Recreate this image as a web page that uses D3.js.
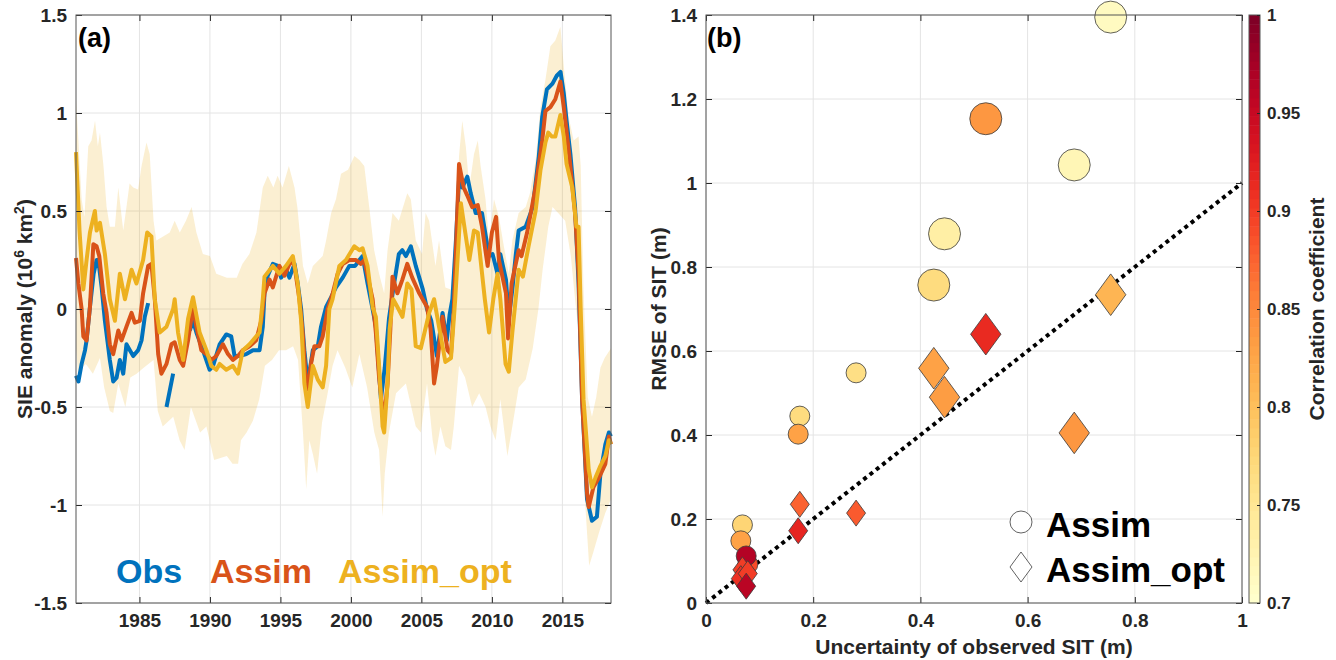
<!DOCTYPE html>
<html>
<head>
<meta charset="utf-8">
<script src="https://cdn.jsdelivr.net/npm/d3@7"></script>
<style>
  body { margin: 0; background: #fff; }
  svg { display: block; font-family: "Liberation Sans", Arial, sans-serif; font-weight: bold; }
</style>
</head>
<body>
<div id="chart"></div>
<script>
// ---- Panel (a): SIE anomaly time series, [year, value]; null breaks the line ----
const obsSeries = [
  [1980.5,-0.34],[1980.67,-0.37],[1980.9,-0.28],[1981.14,-0.21],[1981.25,-0.16],[1981.49,0.01],[1981.75,0.18],
  [1981.96,0.25],[1982.08,0.25],[1982.32,0.11],[1982.55,-0.06],[1982.9,-0.26],[1983.14,-0.37],[1983.38,-0.35],
  [1983.61,-0.26],[1983.85,-0.33],[1984.08,-0.18],[1984.32,-0.21],[1984.56,-0.24],[1984.91,-0.21],[1985.15,-0.16],
  [1985.38,-0.04],[1985.62,0.03],null,
  [1986.92,-0.50],[1987.39,-0.33],null,
  [1988.57,-0.11],[1988.8,-0.06],[1989.04,-0.12],[1989.5,-0.21],[1989.98,-0.31],[1990.22,-0.29],[1990.69,-0.18],
  [1991.16,-0.13],[1991.51,-0.14],[1991.75,-0.24],[1992.1,-0.24],[1992.58,-0.23],[1993.05,-0.21],[1993.52,-0.21],
  [1993.75,-0.09],[1993.87,0.08],[1994.1,0.17],[1994.46,0.23],[1994.82,0.22],[1995.05,0.16],[1995.4,0.20],
  [1995.64,0.16],[1996.0,0.23],[1996.23,0.13],[1996.47,0.0],[1996.7,-0.21],[1996.94,-0.38],[1997.3,-0.21],
  [1997.65,-0.19],[1997.88,-0.09],[1998.24,0.01],[1998.6,0.06],[1998.94,0.11],[1999.42,0.16],[1999.89,0.22],
  [2000.3,0.22],[2000.6,0.25],[2000.83,0.27],[2001.18,0.13],[2001.54,0.0],[2001.77,-0.09],[2002.13,-0.46],
  [2002.4,-0.30],[2002.7,-0.05],[2003.0,0.10],[2003.4,0.28],[2003.65,0.30],[2003.9,0.27],[2004.25,0.32],
  [2004.6,0.22],[2005.1,0.10],[2005.4,0.0],[2005.7,-0.06],[2006.1,-0.24],[2006.5,-0.02],[2006.8,-0.16],
  [2007.0,-0.03],[2007.2,0.05],[2007.45,0.35],[2007.67,0.66],[2007.9,0.62],[2008.26,0.675],[2008.5,0.59],
  [2008.85,0.49],[2009.3,0.49],[2009.8,0.27],[2010.05,0.28],[2010.4,0.18],[2010.6,0.28],[2011.0,0.15],
  [2011.2,-0.05],[2011.45,0.10],[2011.7,0.28],[2011.9,0.40],[2012.4,0.42],[2012.9,0.52],[2013.1,0.64],
  [2013.33,0.78],[2013.57,0.98],[2013.9,1.12],[2014.3,1.15],[2014.6,1.19],[2014.87,1.21],[2015.1,1.10],
  [2015.3,0.96],[2015.57,0.79],[2015.9,0.52],[2016.15,0.13],[2016.4,-0.46],[2016.75,-0.97],[2017.1,-1.08],
  [2017.45,-1.06],[2017.7,-0.84],[2018.05,-0.69],[2018.3,-0.63],[2018.45,-0.65]
];

const assimSeries = [
  [1980.5,0.26],[1980.67,0.13],[1980.9,0.0],[1981.02,-0.14],[1981.25,-0.16],[1981.49,0.01],[1981.73,0.33],
  [1981.96,0.32],[1982.15,0.27],[1982.43,0.08],[1982.67,-0.02],[1982.9,-0.18],[1983.14,-0.23],[1983.5,-0.11],
  [1983.73,-0.16],[1984.08,-0.09],[1984.44,-0.02],[1984.67,-0.07],[1985.03,-0.06],[1985.26,0.08],[1985.62,0.22],
  [1985.85,0.23],[1986.09,0.05],[1986.33,-0.23],[1986.56,-0.33],[1986.92,-0.28],[1987.27,-0.18],[1987.5,-0.17],
  [1987.86,-0.26],[1988.1,-0.29],[1988.45,-0.16],[1988.8,0.01],[1989.04,-0.09],[1989.39,-0.21],[1989.75,-0.23],
  [1990.1,-0.26],[1990.45,-0.24],[1990.92,-0.18],[1991.28,-0.23],[1991.63,-0.26],[1991.99,-0.24],[1992.34,-0.21],
  [1992.81,-0.19],[1993.28,-0.16],[1993.64,-0.06],[1993.87,0.08],[1994.23,0.15],[1994.46,0.11],[1994.93,0.22],
  [1995.29,0.17],[1995.76,0.25],[1996.0,0.22],[1996.35,0.05],[1996.58,-0.12],[1996.82,-0.38],[1996.94,-0.41],
  [1997.17,-0.28],[1997.41,-0.19],[1997.76,-0.19],[1998.0,-0.14],[1998.35,0.0],[1998.71,0.08],[1999.06,0.18],
  [1999.42,0.23],[1999.89,0.25],[2000.36,0.25],[2000.71,0.23],[2000.95,0.25],[2001.3,0.13],[2001.54,0.05],
  [2001.77,-0.12],[2002.0,-0.35],[2002.25,-0.52],[2002.35,-0.57],[2002.6,-0.38],[2002.8,-0.10],[2002.95,0.165],
  [2003.3,0.08],[2003.65,0.15],[2004.0,0.23],[2004.35,0.16],[2004.85,0.08],[2005.4,0.01],[2005.65,-0.10],
  [2005.9,-0.38],[2006.1,-0.29],[2006.5,-0.04],[2006.85,-0.21],[2007.1,-0.23],[2007.3,0.0],[2007.5,0.40],
  [2007.67,0.74],[2008.0,0.62],[2008.25,0.58],[2008.6,0.52],[2009.0,0.53],[2009.3,0.42],[2009.7,0.22],
  [2010.0,0.39],[2010.3,0.47],[2010.5,0.25],[2011.0,0.08],[2011.15,-0.15],[2011.4,0.13],[2011.9,0.30],
  [2012.1,0.27],[2012.5,0.39],[2013.1,0.62],[2013.57,0.86],[2013.8,1.01],[2014.15,1.03],[2014.5,1.07],
  [2014.86,1.16],[2015.1,1.03],[2015.45,0.81],[2015.9,0.49],[2016.15,0.18],[2016.4,-0.46],[2016.75,-0.94],
  [2016.87,-1.01],[2017.2,-0.91],[2017.6,-0.86],[2018.05,-0.79],[2018.3,-0.65],[2018.45,-0.69]
];

const optSeries = [
  [1980.5,0.80],[1980.75,0.40],[1981.02,0.10],[1981.25,0.25],[1981.49,0.39],[1981.84,0.50],[1981.96,0.40],
  [1982.2,0.44],[1982.55,0.28],[1982.9,0.05],[1983.26,-0.06],[1983.61,0.18],[1983.97,0.05],[1984.44,0.20],
  [1984.79,0.13],[1985.26,0.25],[1985.55,0.39],[1985.85,0.37],[1986.09,0.05],[1986.44,-0.12],[1986.92,-0.09],
  [1987.39,0.0],[1987.5,0.05],[1987.74,-0.12],[1988.1,-0.26],[1988.45,-0.05],[1988.8,0.06],[1989.27,-0.12],
  [1989.75,-0.21],[1990.1,-0.29],[1990.45,-0.31],[1990.69,-0.28],[1991.16,-0.31],[1991.63,-0.29],[1991.99,-0.33],
  [1992.34,-0.21],[1992.81,-0.18],[1993.52,-0.12],[1993.75,0.05],[1993.87,0.165],[1994.46,0.22],[1994.93,0.18],
  [1995.4,0.22],[1995.88,0.27],[1996.23,0.13],[1996.47,-0.06],[1996.7,-0.38],[1996.94,-0.50],[1997.3,-0.29],
  [1997.65,-0.36],[1998.0,-0.40],[1998.24,-0.29],[1998.47,0.0],[1998.7,0.05],[1999.18,0.22],[1999.65,0.25],
  [2000.24,0.32],[2000.6,0.30],[2000.83,0.31],[2001.18,0.22],[2001.54,0.01],[2001.77,-0.04],[2002.0,-0.29],
  [2002.25,-0.60],[2002.36,-0.63],[2002.6,-0.38],[2002.75,-0.10],[2003.0,0.05],[2003.3,0.01],[2003.66,-0.04],
  [2004.0,0.13],[2004.3,0.10],[2004.6,-0.19],[2004.96,-0.20],[2005.55,-0.02],[2005.9,0.05],[2006.25,-0.09],
  [2006.7,-0.27],[2007.1,-0.25],[2007.4,0.05],[2007.8,0.54],[2008.05,0.42],[2008.4,0.25],[2008.73,0.40],
  [2009.0,0.39],[2009.2,0.25],[2009.5,0.05],[2009.8,-0.12],[2010.1,0.05],[2010.4,0.18],[2010.6,0.05],
  [2010.97,-0.28],[2011.2,-0.32],[2011.45,-0.12],[2011.9,0.20],[2012.2,0.165],[2012.6,0.32],[2013.1,0.50],
  [2013.45,0.71],[2013.8,0.85],[2014.0,0.90],[2014.25,0.88],[2014.5,0.88],[2014.86,0.99],[2015.1,0.88],
  [2015.3,0.74],[2015.7,0.62],[2016.0,0.42],[2016.15,0.42],[2016.3,0.0],[2016.5,-0.46],[2016.87,-0.82],
  [2017.1,-0.91],[2017.35,-0.86],[2017.7,-0.80],[2018.05,-0.75],[2018.3,-0.67],[2018.45,-0.69]
];

// ensemble spread (upper and lower edges)
const spreadUpper = [
  [1980.5,1.07],[1980.67,0.86],[1980.9,0.56],[1981.1,0.47],[1981.37,0.83],[1981.6,0.86],[1981.85,0.96],
  [1982.05,0.83],[1982.2,0.90],[1982.45,0.73],[1982.67,0.52],[1982.9,0.42],[1983.26,0.42],[1983.5,0.62],
  [1983.85,0.40],[1984.08,0.52],[1984.3,0.64],[1984.56,0.62],[1984.9,0.61],[1985.15,0.73],[1985.5,0.85],
  [1985.73,0.79],[1986.0,0.45],[1986.2,0.35],[1986.68,0.37],[1987.15,0.39],[1987.5,0.45],[1987.86,0.39],
  [1988.3,0.45],[1988.7,0.52],[1989.04,0.39],[1989.5,0.28],[1990.0,0.27],[1990.45,0.18],[1991.2,0.16],
  [1991.9,0.16],[1992.3,0.23],[1992.8,0.28],[1993.3,0.39],[1993.75,0.62],[1994.1,0.68],[1994.5,0.62],
  [1994.8,0.68],[1995.15,0.62],[1995.6,0.73],[1996.0,0.62],[1996.2,0.52],[1996.6,0.22],[1996.94,0.13],
  [1997.3,0.22],[1998.0,0.27],[1998.24,0.35],[1998.6,0.49],[1998.94,0.56],[1999.3,0.69],[1999.8,0.71],
  [2000.25,0.78],[2000.6,0.76],[2000.95,0.73],[2001.3,0.52],[2001.65,0.30],[2002.0,0.18],[2002.36,0.08],
  [2002.6,0.30],[2002.95,0.49],[2003.4,0.45],[2004.0,0.59],[2004.25,0.56],[2004.6,0.35],[2005.05,0.28],
  [2005.3,0.49],[2005.55,0.45],[2006.0,0.22],[2006.25,0.35],[2006.7,0.11],[2007.1,0.10],[2007.45,0.39],
  [2007.67,0.78],[2007.9,0.96],[2008.15,0.83],[2008.4,0.62],[2008.73,0.79],[2009.0,0.86],[2009.2,0.73],
  [2009.55,0.56],[2009.8,0.35],[2010.15,0.56],[2010.5,0.47],[2010.85,0.32],[2011.2,0.18],[2011.45,0.35],
  [2011.9,0.49],[2012.4,0.52],[2012.7,0.59],[2013.1,0.76],[2013.45,1.03],[2013.8,1.17],[2014.15,1.34],
  [2014.5,1.37],[2014.86,1.44],[2015.1,1.24],[2015.45,0.98],[2015.8,0.86],[2016.15,0.88],[2016.3,0.73],
  [2016.5,0.10],[2016.8,-0.45],[2017.1,-0.55],[2017.4,-0.45],[2017.7,-0.30],[2018.0,-0.25],[2018.45,-0.20]
];

const spreadLower = [
  [1980.5,-0.20],[1980.7,-0.38],[1980.9,-0.30],[1981.2,-0.28],[1981.7,-0.33],[1982.2,-0.25],[1982.5,-0.40],
  [1982.9,-0.52],[1983.14,-0.53],[1983.5,-0.38],[1984.0,-0.50],[1984.35,-0.35],[1984.8,-0.33],[1985.3,-0.30],
  [1986.0,-0.26],[1986.3,-0.52],[1986.65,-0.60],[1987.4,-0.55],[1987.85,-0.67],[1988.2,-0.72],[1988.65,-0.50],
  [1989.3,-0.63],[1989.75,-0.60],[1990.3,-0.77],[1991.2,-0.75],[1991.6,-0.79],[1992.0,-0.79],[1992.2,-0.67],
  [1992.6,-0.63],[1993.05,-0.57],[1993.5,-0.46],[1993.9,-0.29],[1994.4,-0.26],[1994.9,-0.21],[1995.4,-0.21],
  [1995.9,-0.19],[1996.25,-0.26],[1996.6,-0.63],[1996.83,-0.92],[1997.05,-0.67],[1997.3,-0.74],[1997.6,-0.84],
  [1997.95,-0.58],[1998.35,-0.43],[1998.7,-0.29],[1999.05,-0.21],[1999.6,-0.30],[2000.1,-0.40],[2000.6,-0.23],
  [2001.15,-0.40],[2001.66,-0.63],[2002.0,-0.72],[2002.25,-1.06],[2002.4,-0.84],[2002.7,-0.63],[2003.2,-0.43],
  [2003.9,-0.38],[2004.6,-0.60],[2004.96,-0.63],[2005.4,-0.38],[2005.8,-0.67],[2006.0,-0.75],[2006.35,-0.60],
  [2006.7,-0.70],[2007.1,-0.72],[2007.3,-0.60],[2007.67,-0.29],[2008.1,-0.35],[2008.6,-0.50],[2009.1,-0.43],
  [2009.55,-0.50],[2009.9,-0.60],[2010.27,-0.67],[2010.6,-0.46],[2011.1,-0.75],[2011.45,-0.60],[2011.9,-0.40],
  [2012.4,-0.36],[2012.9,-0.20],[2013.3,0.0],[2013.6,0.20],[2014.0,0.42],[2014.3,0.52],[2014.7,0.49],
  [2015.2,0.45],[2015.6,0.27],[2015.9,0.05],[2016.15,-0.12],[2016.35,-0.38],[2016.6,-0.97],[2016.9,-1.31],
  [2017.2,-1.24],[2017.6,-1.14],[2018.05,-1.04],[2018.45,-0.97]
];

const yearTicks = [1985, 1990, 1995, 2000, 2005, 2010, 2015];
const sieTicks = [-1.5, -1, -0.5, 0, 0.5, 1, 1.5];
const seriesNames = ["Obs", "Assim", "Assim_opt"];
const seriesColors = ["#0072BD", "#D95319", "#EDB120"];

// ---- Panel (b): SIT scatter ----
const sitUncert   = [0.755, 0.687, 0.522, 0.445, 0.425, 0.280, 0.175, 0.172, 0.068, 0.065, 0.078, 0.075];
const rmseAssim   = [1.395, 1.043, 1.153, 0.879, 0.757, 0.548, 0.445, 0.402, 0.186, 0.148, 0.092, 0.112];
const corrAssim   = [0.71, 0.72, 0.84, 0.735, 0.77, 0.765, 0.77, 0.83, 0.775, 0.83, 0.89, 0.965];
const rmseOpt     = [0.734, 0.405, 0.640, 0.490, 0.559, 0.214, 0.235, 0.172, 0.079, 0.058, 0.070, 0.040];
const corrOpt     = [0.81, 0.84, 0.915, 0.835, 0.83, 0.88, 0.875, 0.92, 0.90, 0.91, 0.90, 0.96];
const uncTicks  = [0, 0.2, 0.4, 0.6, 0.8, 1];
const rmseTicks = [0, 0.2, 0.4, 0.6, 0.8, 1, 1.2, 1.4];
const corrTicks = [0.7, 0.75, 0.8, 0.85, 0.9, 0.95, 1];

// ---- layout ----
const W = 1336, H = 660;
const svg = d3.select("#chart").append("svg")
    .attr("width", W).attr("height", H)
    .attr("viewBox", [0, 0, W, H]);

const fmt = d => String(Math.round(d * 100) / 100);
const ink = "#262626";

function drawGrid(x, y, xt, yt) {
    const g = svg.append("g");
    const [x0, x1] = x.range(), [y0, y1] = y.range();
    g.append("g").selectAll("line").data(xt).join("line")
        .attr("x1", d => x(d)).attr("x2", d => x(d)).attr("y1", y0).attr("y2", y1)
        .attr("stroke", "#e4e4e4").attr("stroke-width", 1);
    g.append("g").selectAll("line").data(yt).join("line")
        .attr("x1", x0).attr("x2", x1).attr("y1", d => y(d)).attr("y2", d => y(d))
        .attr("stroke", "#e4e4e4").attr("stroke-width", 1);
    return g;
}

function drawAxes(x, y, xt, yt) {
    const [x0, x1] = x.range(), [y0, y1] = y.range();
    const style = sel => {
        sel.attr("font-size", 19).attr("font-family", null).attr("font-weight", "bold");
        sel.select(".domain").remove();
        sel.selectAll("line").attr("stroke", ink);
        sel.selectAll("text").attr("fill", ink);
    };
    svg.append("g").attr("transform", `translate(0,${y0})`)
        .call(d3.axisBottom(x).tickValues(xt).tickSize(-6).tickPadding(11).tickFormat(fmt)).call(style);
    svg.append("g").attr("transform", `translate(0,${y1})`)
        .call(d3.axisTop(x).tickValues(xt).tickSize(-6).tickFormat("")).call(style);
    svg.append("g").attr("transform", `translate(${x0},0)`)
        .call(d3.axisLeft(y).tickValues(yt).tickSize(-6).tickPadding(9).tickFormat(fmt)).call(style);
    svg.append("g").attr("transform", `translate(${x1},0)`)
        .call(d3.axisRight(y).tickValues(yt).tickSize(-6).tickFormat("")).call(style);
    svg.append("rect").attr("x", x0).attr("y", y1).attr("width", x1 - x0).attr("height", y0 - y1)
        .attr("fill", "none").attr("stroke", "#555").attr("stroke-width", 1);
}

// ===== Panel (a) =====
const xa = d3.scaleLinear().domain([1980.5, 2018.45]).range([76, 611]);
const ya = d3.scaleLinear().domain([-1.5, 1.5]).range([603, 15]);
drawGrid(xa, ya, yearTicks, sieTicks);

const spreadPts = spreadUpper.concat(spreadLower.slice().reverse());
svg.append("path")
    .attr("d", d3.line().x(d => xa(d[0])).y(d => ya(d[1]))(spreadPts) + "Z")
    .attr("fill", "#EDB120").attr("fill-opacity", 0.2);

const lineA = d3.line().defined(d => d !== null).x(d => xa(d[0])).y(d => ya(d[1]));
[obsSeries, assimSeries, optSeries].forEach((s, i) => {
    svg.append("path").attr("d", lineA(s))
        .attr("fill", "none").attr("stroke", seriesColors[i])
        .attr("stroke-width", 4).attr("stroke-linejoin", "round").attr("stroke-linecap", "butt");
});
drawAxes(xa, ya, yearTicks, sieTicks);

svg.append("text").attr("x", 78).attr("y", 47).attr("font-size", 27).attr("fill", "#000").text("(a)");

const yl = svg.append("text").attr("transform", "translate(32,309) rotate(-90)")
    .attr("text-anchor", "middle").attr("font-size", 21).attr("fill", ink);
yl.append("tspan").text("SIE anomaly (10");
yl.append("tspan").attr("dy", -8).attr("font-size", 14).text("6");
yl.append("tspan").attr("dy", 8).text(" km");
yl.append("tspan").attr("dy", -8).attr("font-size", 14).text("2");
yl.append("tspan").attr("dy", 8).text(")");

const legX = [116, 210, 338];
svg.append("g").selectAll("text").data(seriesNames).join("text")
    .attr("x", (d, i) => legX[i]).attr("y", 583)
    .attr("font-size", 34).attr("fill", (d, i) => seriesColors[i]).text(d => d);

// ===== Panel (b) =====
const xb = d3.scaleLinear().domain([0, 1]).range([706, 1242]);
const yb = d3.scaleLinear().domain([0, 1.4]).range([603, 15]);
drawGrid(xb, yb, uncTicks, rmseTicks);

const corrColor = d3.scaleQuantize().domain([0.7, 1]).range(d3.quantize(d3.interpolateYlOrRd, 64));
const markerSize = d3.scaleThreshold().domain([0.35]).range([10, 16]);

// 1:1 line
svg.append("line")
    .attr("x1", xb(0)).attr("y1", yb(0)).attr("x2", xb(1)).attr("y2", yb(1))
    .attr("stroke", "#000").attr("stroke-width", 4).attr("stroke-dasharray", "4,4");

const diamond = (w, h) => `M0,${-h}L${w},0L0,${h}L${-w},0Z`;
const idx = d3.range(sitUncert.length);

svg.append("g").selectAll("circle").data(idx).join("circle")
    .attr("cx", i => xb(sitUncert[i])).attr("cy", i => yb(rmseAssim[i]))
    .attr("r", i => markerSize(sitUncert[i]))
    .attr("fill", i => corrColor(corrAssim[i])).attr("stroke", "#3a3a3a").attr("stroke-width", 0.8);

svg.append("g").selectAll("path").data(idx).join("path")
    .attr("transform", i => `translate(${xb(sitUncert[i])},${yb(rmseOpt[i])})`)
    .attr("d", i => { const r = markerSize(sitUncert[i]); return diamond(r * 0.95, r * 1.3); })
    .attr("fill", i => corrColor(corrOpt[i])).attr("stroke", "#3a3a3a").attr("stroke-width", 0.8);

drawAxes(xb, yb, uncTicks, rmseTicks);

svg.append("text").attr("x", 707).attr("y", 47).attr("font-size", 27).attr("fill", "#000").text("(b)");
svg.append("text").attr("x", 974).attr("y", 654).attr("text-anchor", "middle")
    .attr("font-size", 21).attr("fill", ink).text("Uncertainty of observed SIT (m)");
svg.append("text").attr("transform", "translate(666,309) rotate(-90)").attr("text-anchor", "middle")
    .attr("font-size", 21).attr("fill", ink).text("RMSE of SIT (m)");

// legend (b)
svg.append("circle").attr("cx", 1021).attr("cy", 522).attr("r", 11)
    .attr("fill", "#fff").attr("stroke", "#3a3a3a").attr("stroke-width", 0.8);
svg.append("path").attr("transform", "translate(1021,567)").attr("d", diamond(11, 15))
    .attr("fill", "#fff").attr("stroke", "#3a3a3a").attr("stroke-width", 0.8);
svg.append("text").attr("x", 1046).attr("y", 537).attr("font-size", 35).attr("fill", "#000").text("Assim");
svg.append("text").attr("x", 1046).attr("y", 582).attr("font-size", 35).attr("fill", "#000").text("Assim_opt");

// ===== Colorbar =====
const cbX = 1249, cbW = 11;
const yc = d3.scaleLinear().domain([0.7, 1]).range([603, 15]);
const bands = corrColor.range().map(c => ({ c, e: corrColor.invertExtent(c) }));
svg.append("g").selectAll("rect").data(bands).join("rect")
    .attr("x", cbX).attr("width", cbW)
    .attr("y", d => yc(d.e[1])).attr("height", d => yc(d.e[0]) - yc(d.e[1]) + 0.5)
    .attr("fill", d => d.c);
svg.append("rect").attr("x", cbX).attr("y", 15).attr("width", cbW).attr("height", 588)
    .attr("fill", "none").attr("stroke", "#555").attr("stroke-width", 1);
svg.append("g").attr("transform", `translate(${cbX + cbW},0)`)
    .call(d3.axisRight(yc).tickValues(corrTicks).tickSize(-3).tickPadding(7).tickFormat(fmt))
    .call(sel => {
        sel.attr("font-size", 17).attr("font-family", null).attr("font-weight", "bold");
        sel.select(".domain").remove();
        sel.selectAll("line").attr("stroke", ink);
        sel.selectAll("text").attr("fill", ink);
    });
svg.append("text").attr("transform", "translate(1324,309) rotate(-90)").attr("text-anchor", "middle")
    .attr("font-size", 21).attr("fill", ink).text("Correlation coefficient");
</script>
</body>
</html>
